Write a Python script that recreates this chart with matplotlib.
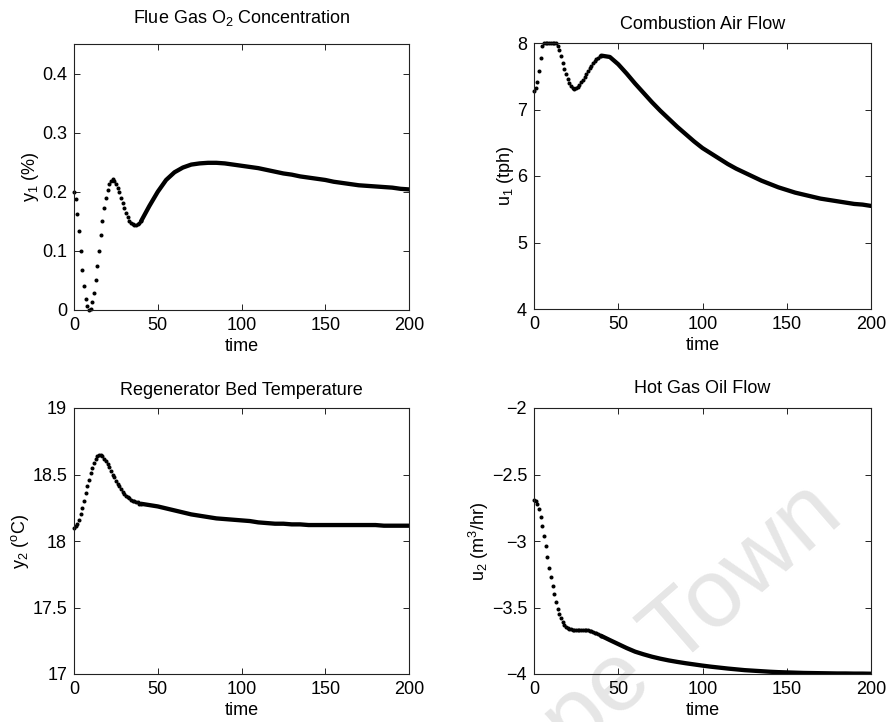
"""
FCC regenerator closed-loop response: two outputs and two inputs vs time.
Writes out.png
"""
import numpy as np
import matplotlib
matplotlib.use("Agg")
import matplotlib.pyplot as plt
import matplotlib.ticker as plticker

plt.rcParams["font.family"] = ["Liberation Sans", "DejaVu Sans"]
plt.rcParams["mathtext.fontset"] = "custom"
plt.rcParams["mathtext.rm"] = "Liberation Sans"
plt.rcParams["mathtext.it"] = "Liberation Sans"
plt.rcParams["mathtext.default"] = "regular"

# sample times: every step while the response is fast, every 5 afterwards
t_early = np.arange(0, 41)
t_late = np.arange(40, 201, 5)

# Flue gas O2 concentration, y1 (%)
o2_early = [0.200, 0.187, 0.163, 0.133, 0.099, 0.067, 0.040, 0.019, 0.006, 0.000,
            0.002, 0.013, 0.029, 0.050, 0.075, 0.100, 0.127, 0.151, 0.172, 0.189,
            0.203, 0.213, 0.219, 0.221, 0.219, 0.214, 0.207, 0.199, 0.190, 0.181,
            0.172, 0.164, 0.157, 0.151, 0.147, 0.145, 0.144, 0.144, 0.145, 0.147,
            0.150]
o2_late = [0.150, 0.176, 0.200, 0.220, 0.233, 0.241, 0.246, 0.248, 0.249, 0.249,
           0.248, 0.246, 0.244, 0.242, 0.240, 0.237, 0.234, 0.231, 0.229, 0.226,
           0.224, 0.222, 0.220, 0.217, 0.215, 0.213, 0.211, 0.210, 0.209, 0.208,
           0.207, 0.205, 0.204]

# Combustion air flow, u1 (tph)
air_early = [7.28, 7.32, 7.42, 7.58, 7.78, 7.95, 8.00, 8.00, 8.00, 8.00,
             8.00, 8.00, 8.00, 8.00, 7.96, 7.89, 7.80, 7.70, 7.61, 7.53,
             7.46, 7.40, 7.35, 7.32, 7.31, 7.32, 7.34, 7.37, 7.41, 7.45,
             7.49, 7.54, 7.58, 7.62, 7.66, 7.70, 7.73, 7.76, 7.78, 7.80,
             7.81]
air_late = [7.81, 7.79, 7.68, 7.54, 7.39, 7.25, 7.11, 6.98, 6.86, 6.74,
            6.63, 6.52, 6.42, 6.34, 6.26, 6.18, 6.11, 6.05, 5.99, 5.93,
            5.88, 5.83, 5.79, 5.75, 5.72, 5.69, 5.66, 5.64, 5.62, 5.60,
            5.58, 5.57, 5.55]

# Regenerator bed temperature, y2
bed_early = [18.10, 18.11, 18.13, 18.16, 18.20, 18.25, 18.30, 18.36, 18.41, 18.46,
             18.51, 18.55, 18.59, 18.62, 18.64, 18.65, 18.65, 18.64, 18.62, 18.60,
             18.58, 18.56, 18.53, 18.50, 18.48, 18.45, 18.43, 18.41, 18.39, 18.37,
             18.35, 18.34, 18.33, 18.32, 18.31, 18.30, 18.30, 18.29, 18.29, 18.28,
             18.28]
bed_late = [18.28, 18.27, 18.26, 18.245, 18.23, 18.215, 18.20, 18.19, 18.18, 18.17,
            18.165, 18.16, 18.155, 18.15, 18.14, 18.135, 18.13, 18.13, 18.125, 18.125,
            18.12, 18.12, 18.12, 18.12, 18.12, 18.12, 18.12, 18.12, 18.12, 18.115,
            18.115, 18.115, 18.115]

# Hot gas oil flow, u2 (m3/hr)
oil_early = [-2.69, -2.70, -2.72, -2.76, -2.82, -2.89, -2.96, -3.04, -3.12, -3.20,
             -3.27, -3.34, -3.40, -3.46, -3.51, -3.55, -3.58, -3.61, -3.63, -3.645,
             -3.655, -3.66, -3.665, -3.667, -3.667, -3.667, -3.667, -3.667, -3.667, -3.667,
             -3.667, -3.668, -3.670, -3.673, -3.677, -3.682, -3.688, -3.694, -3.700, -3.707,
             -3.714]
oil_late = [-3.714, -3.745, -3.775, -3.805, -3.832, -3.852, -3.870, -3.885, -3.898, -3.909,
            -3.919, -3.928, -3.937, -3.945, -3.952, -3.959, -3.965, -3.971, -3.975, -3.979,
            -3.983, -3.986, -3.988, -3.990, -3.992, -3.993, -3.994, -3.995, -3.996, -3.996,
            -3.997, -3.997, -3.998]

W, H = 889, 722
FS = 13


def px_box(left, top, right, bottom):
    # pixel box -> figure fraction [x0, y0, w, h]
    return [left / W, 1 - bottom / H, (right - left) / W, (bottom - top) / H]


def fmt(v, pos):
    return ("%g" % round(v, 6)).replace("-", "\u2212")


def panel(ax, early, late, ylim, yticks, title, ylabel, pad):
    ax.set_facecolor("none")
    ax.plot(t_early, early, "o", color="black", ms=2.9, mew=0, clip_on=False)
    ax.plot(t_late, late, "-", color="black", lw=3.1, solid_capstyle="round")
    ax.set_xlim(0, 200)
    ax.set_ylim(*ylim)
    ax.xaxis.set_major_locator(plticker.MultipleLocator(50))
    ax.set_yticks(yticks)
    ax.xaxis.set_major_formatter(plticker.FuncFormatter(fmt))
    ax.yaxis.set_major_formatter(plticker.FuncFormatter(fmt))
    ax.tick_params(direction="in", length=4, width=0.6, top=True, right=True,
                   labelsize=FS, pad=5)
    for s in ax.spines.values():
        s.set_linewidth(0.8)
        s.set_color("#222222")
    ax.set_title(title, fontsize=FS, pad=pad)
    ax.set_xlabel("time", fontsize=FS, labelpad=3)
    ax.set_ylabel(ylabel, fontsize=FS, labelpad=0.5)


fig = plt.figure(figsize=(W / 100, H / 100), dpi=100)

ax1 = fig.add_axes(px_box(74, 44, 409, 310))
panel(ax1, o2_early, o2_late, (0, 0.45), [0, 0.1, 0.2, 0.3, 0.4],
      "Flue Gas O$_2$ Concentration", "y$_1$ (%)", 15)

ax2 = fig.add_axes(px_box(534, 43, 871, 309))
panel(ax2, air_early, air_late, (4, 8), [4, 5, 6, 7, 8],
      "Combustion Air Flow", "u$_1$ (tph)", 10)

ax3 = fig.add_axes(px_box(74, 408, 409, 674))
panel(ax3, bed_early, bed_late, (17, 19), [17, 17.5, 18, 18.5, 19],
      "Regenerator Bed Temperature", "y$_2$ ($^o$C)", 9.5)

ax4 = fig.add_axes(px_box(534, 408, 871, 674))
panel(ax4, oil_early, oil_late, (-4, -2), [-4, -3.5, -3, -2.5, -2],
      "Hot Gas Oil Flow", "u$_2$ (m$^3$/hr)", 10.5)

# faint library watermark running off the bottom edge, as in the scan
fig.text(480 / W, 1 - 838 / H, "Cape Town", fontsize=70, color="#e6e6e6",
         rotation=41, rotation_mode="anchor", ha="left", va="baseline", zorder=-1)

fig.savefig("out.png", dpi=100)
